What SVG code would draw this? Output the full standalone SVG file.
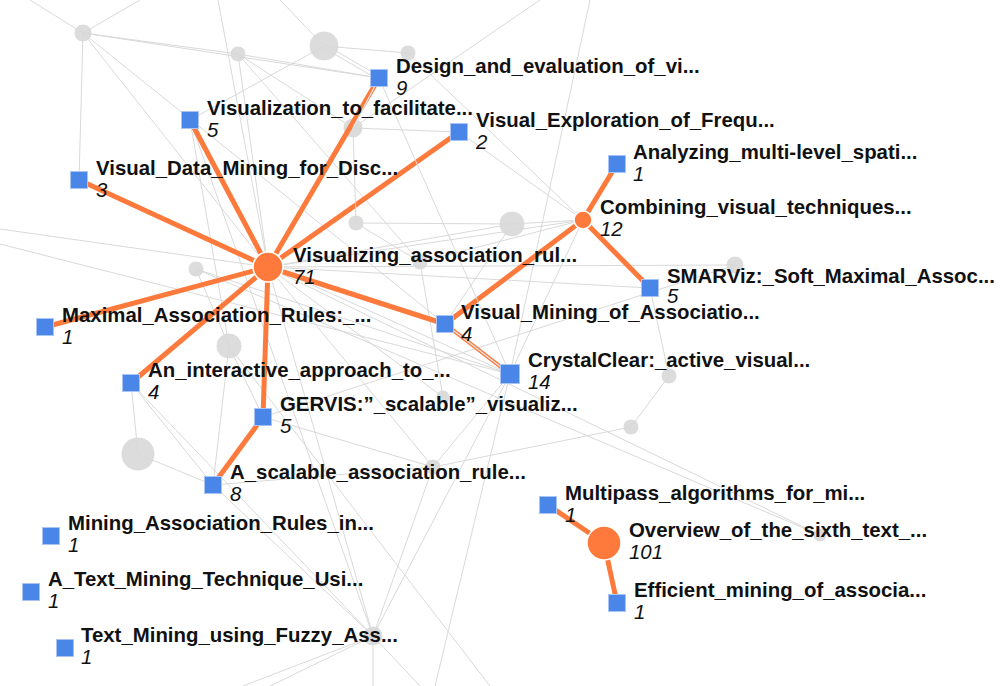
<svg xmlns="http://www.w3.org/2000/svg" width="1000" height="686" viewBox="0 0 1000 686">
<style>
.g{stroke:#d9d9d9;stroke-width:1;fill:none}
.o{stroke:#fd7a3c;stroke-width:5;fill:none;stroke-linecap:butt}
.s{stroke:#e6e6e6;stroke-width:1.3;fill:none}
.gn{fill:#dcdcdc;stroke:#fff;stroke-width:1}
.sq{fill:#4a86e8;stroke:#a8c5f6;stroke-width:1}
.oc{fill:#fd7a3c;stroke:#fff;stroke-width:1.5}
.t{font-family:"Liberation Sans",Arial,sans-serif;font-size:20.4px;font-weight:bold;fill:#111}
.n{font-family:"Liberation Sans",Arial,sans-serif;font-size:20.4px;font-style:italic;fill:#111}
</style>
<rect width="1000" height="686" fill="#fff"/>
<g id="background-nodes">
<circle class="gn" cx="83" cy="33" r="9"/>
<circle class="gn" cx="238" cy="54" r="8"/>
<circle class="gn" cx="324" cy="46" r="15"/>
<circle class="gn" cx="408" cy="53" r="8"/>
<circle class="gn" cx="353" cy="128" r="10"/>
<circle class="gn" cx="356" cy="223" r="8"/>
<circle class="gn" cx="512" cy="224" r="13"/>
<circle class="gn" cx="196" cy="269" r="8"/>
<circle class="gn" cx="420" cy="262" r="8"/>
<circle class="gn" cx="229" cy="346" r="13"/>
<circle class="gn" cx="138" cy="454" r="17"/>
<circle class="gn" cx="443" cy="397" r="7"/>
<circle class="gn" cx="433" cy="467" r="8"/>
<circle class="gn" cx="735" cy="265" r="9"/>
<circle class="gn" cx="669" cy="376" r="8"/>
<circle class="gn" cx="631" cy="427" r="8"/>
<circle class="gn" cx="373" cy="636" r="10"/>
<circle class="gn" cx="820" cy="535" r="7"/>
</g>
<g id="connectors">
<line class="g" x1="30" y1="0" x2="83" y2="33"/>
<line class="g" x1="140" y1="0" x2="83" y2="33"/>
<line class="g" x1="83" y1="33" x2="238" y2="54"/>
<line class="g" x1="83" y1="33" x2="379" y2="78"/>
<line class="g" x1="83" y1="33" x2="79" y2="180"/>
<line class="g" x1="83" y1="33" x2="268" y2="267"/>
<line class="g" x1="83" y1="33" x2="445" y2="324"/>
<line class="g" x1="218" y1="0" x2="268" y2="267"/>
<line class="g" x1="238" y1="54" x2="379" y2="78"/>
<line class="g" x1="238" y1="54" x2="268" y2="267"/>
<line class="g" x1="238" y1="54" x2="353" y2="128"/>
<line class="g" x1="238" y1="54" x2="420" y2="262"/>
<line class="g" x1="280" y1="0" x2="324" y2="46"/>
<line class="g" x1="324" y1="46" x2="408" y2="53"/>
<line class="g" x1="324" y1="44" x2="379" y2="76"/>
<line class="g" x1="324" y1="48" x2="379" y2="80"/>
<line class="g" x1="324" y1="46" x2="190" y2="120"/>
<line class="g" x1="408" y1="53" x2="583" y2="220"/>
<line class="g" x1="540" y1="0" x2="353" y2="128"/>
<line class="g" x1="590" y1="0" x2="510" y2="374"/>
<line class="g" x1="353" y1="128" x2="459" y2="132"/>
<line class="g" x1="459" y1="132" x2="583" y2="220"/>
<line class="g" x1="190" y1="120" x2="229" y2="346"/>
<line class="g" x1="79" y1="180" x2="510" y2="374"/>
<line class="g" x1="356" y1="223" x2="512" y2="224"/>
<line class="g" x1="356" y1="223" x2="420" y2="262"/>
<line class="g" x1="512" y1="224" x2="583" y2="220"/>
<line class="g" x1="268" y1="267" x2="512" y2="224"/>
<line class="g" x1="268" y1="267" x2="583" y2="220"/>
<line class="g" x1="268" y1="267" x2="735" y2="265"/>
<line class="g" x1="268" y1="267" x2="650" y2="288"/>
<line class="g" x1="0" y1="229" x2="268" y2="267"/>
<line class="g" x1="0" y1="244" x2="510" y2="374"/>
<line class="g" x1="196" y1="269" x2="510" y2="374"/>
<line class="g" x1="196" y1="269" x2="229" y2="346"/>
<line class="g" x1="229" y1="346" x2="213" y2="485"/>
<line class="g" x1="229" y1="346" x2="263" y2="417"/>
<line class="g" x1="131" y1="383" x2="138" y2="454"/>
<line class="g" x1="131" y1="383" x2="213" y2="485"/>
<line class="g" x1="138" y1="454" x2="213" y2="485"/>
<line class="g" x1="131" y1="383" x2="373" y2="636"/>
<line class="g" x1="263" y1="417" x2="433" y2="467"/>
<line class="g" x1="213" y1="485" x2="433" y2="467"/>
<line class="g" x1="213" y1="485" x2="373" y2="636"/>
<line class="g" x1="268" y1="267" x2="373" y2="636"/>
<line class="g" x1="268" y1="267" x2="433" y2="467"/>
<line class="g" x1="268" y1="267" x2="443" y2="397"/>
<line class="g" x1="268" y1="267" x2="820" y2="535"/>
<line class="g" x1="196" y1="269" x2="820" y2="535"/>
<line class="g" x1="373" y1="636" x2="433" y2="467"/>
<line class="g" x1="373" y1="636" x2="510" y2="374"/>
<line class="g" x1="373" y1="636" x2="243" y2="686"/>
<line class="g" x1="373" y1="636" x2="270" y2="686"/>
<line class="g" x1="373" y1="636" x2="373" y2="686"/>
<line class="g" x1="373" y1="636" x2="420" y2="686"/>
<line class="g" x1="229" y1="346" x2="490" y2="686"/>
<line class="g" x1="435" y1="686" x2="510" y2="374"/>
<line class="g" x1="433" y1="467" x2="510" y2="374"/>
<line class="g" x1="433" y1="467" x2="631" y2="427"/>
<line class="g" x1="263" y1="417" x2="735" y2="265"/>
<line class="g" x1="650" y1="288" x2="669" y2="376"/>
<line class="g" x1="669" y1="376" x2="631" y2="427"/>
<line class="g" x1="583" y1="220" x2="510" y2="374"/>
<line class="g" x1="583" y1="220" x2="420" y2="262"/>
<line class="g" x1="420" y1="262" x2="443" y2="397"/>
<line class="g" x1="445" y1="324" x2="512" y2="224"/>
<line class="g" x1="190" y1="120" x2="373" y2="636"/>
<line class="o" x1="268" y1="267" x2="79" y2="180"/>
<line class="o" x1="268" y1="267" x2="190" y2="120"/>
<line class="o" x1="268" y1="267" x2="379" y2="78"/>
<line class="o" x1="268" y1="267" x2="459" y2="132"/>
<line class="o" x1="268" y1="267" x2="45" y2="327"/>
<line class="o" x1="268" y1="267" x2="131" y2="383"/>
<line class="o" x1="268" y1="267" x2="263" y2="417"/>
<line class="o" x1="268" y1="267" x2="445" y2="324"/>
<line class="o" x1="263" y1="417" x2="213" y2="485"/>
<line class="o" x1="583" y1="220" x2="617" y2="164"/>
<line class="o" x1="583" y1="220" x2="650" y2="288"/>
<line class="o" x1="583" y1="220" x2="445" y2="324"/>
<line class="o" x1="445" y1="324" x2="510" y2="374" style="stroke-width:4"/>
<line class="o" x1="604" y1="543" x2="548" y2="505"/>
<line class="o" x1="604" y1="543" x2="617" y2="603"/>
<line class="s" x1="379" y1="78" x2="353" y2="128"/>
<line class="s" x1="445" y1="324" x2="510" y2="374"/>
<line class="g" x1="353" y1="128" x2="356" y2="223"/>
<line class="g" x1="379" y1="78" x2="510" y2="374"/>
</g>
<g id="node-design"><rect class="sq" x="370.5" y="69.5" width="17" height="17"/><text class="t" x="396" y="73">Design_and_evaluation_of_vi...</text><text class="n" x="396" y="95">9</text></g>
<g id="node-visualization-to-facilitate"><rect class="sq" x="181.5" y="111.5" width="17" height="17"/><text class="t" x="207" y="115">Visualization_to_facilitate...</text><text class="n" x="207" y="137">5</text></g>
<g id="node-visual-exploration"><rect class="sq" x="450.5" y="123.5" width="17" height="17"/><text class="t" x="476" y="127">Visual_Exploration_of_Frequ...</text><text class="n" x="476" y="149">2</text></g>
<g id="node-visual-data-mining"><rect class="sq" x="70.5" y="171.5" width="17" height="17"/><text class="t" x="96" y="175">Visual_Data_Mining_for_Disc...</text><text class="n" x="96" y="197">3</text></g>
<g id="node-analyzing"><rect class="sq" x="608.5" y="155.5" width="17" height="17"/><text class="t" x="633" y="159">Analyzing_multi-level_spati...</text><text class="n" x="633" y="181">1</text></g>
<g id="node-combining"><circle class="oc" cx="583" cy="220" r="9"/><text class="t" x="600" y="214">Combining_visual_techniques...</text><text class="n" x="600" y="236">12</text></g>
<g id="node-visualizing"><circle class="oc" cx="268" cy="267" r="15"/><text class="t" x="293" y="262">Visualizing_association_rul...</text><text class="n" x="293" y="284">71</text></g>
<g id="node-smarviz"><rect class="sq" x="641.5" y="279.5" width="17" height="17"/><text class="t" x="667" y="283">SMARViz:_Soft_Maximal_Assoc...</text><text class="n" x="667" y="303">5</text></g>
<g id="node-maximal"><rect class="sq" x="36.5" y="318.5" width="17" height="17"/><text class="t" x="62" y="322">Maximal_Association_Rules:_...</text><text class="n" x="62" y="344">1</text></g>
<g id="node-visual-mining"><rect class="sq" x="436.5" y="315.5" width="17" height="17"/><text class="t" x="461" y="319">Visual_Mining_of_Associatio...</text><text class="n" x="461" y="341">4</text></g>
<g id="node-crystalclear"><rect class="sq" x="500.5" y="364.5" width="19" height="19"/><text class="t" x="528" y="367">CrystalClear:_active_visual...</text><text class="n" x="528" y="389">14</text></g>
<g id="node-interactive"><rect class="sq" x="122.5" y="374.5" width="17" height="17"/><text class="t" x="148" y="377">An_interactive_approach_to_...</text><text class="n" x="148" y="399">4</text></g>
<g id="node-gervis"><rect class="sq" x="254.5" y="408.5" width="17" height="17"/><text class="t" x="280" y="411">GERVIS:”_scalable”_visualiz...</text><text class="n" x="280" y="433">5</text></g>
<g id="node-scalable"><rect class="sq" x="204.5" y="476.5" width="17" height="17"/><text class="t" x="230" y="479">A_scalable_association_rule...</text><text class="n" x="230" y="501">8</text></g>
<g id="node-mining-association"><rect class="sq" x="42.5" y="527.5" width="17" height="17"/><text class="t" x="68" y="530">Mining_Association_Rules_in...</text><text class="n" x="68" y="552">1</text></g>
<g id="node-text-mining-technique"><rect class="sq" x="22.5" y="583.5" width="17" height="17"/><text class="t" x="48" y="586">A_Text_Mining_Technique_Usi...</text><text class="n" x="48" y="608">1</text></g>
<g id="node-text-mining-fuzzy"><rect class="sq" x="56.5" y="639.5" width="17" height="17"/><text class="t" x="81" y="642">Text_Mining_using_Fuzzy_Ass...</text><text class="n" x="81" y="664">1</text></g>
<g id="node-multipass"><rect class="sq" x="539.5" y="496.5" width="17" height="17"/><text class="t" x="565" y="500">Multipass_algorithms_for_mi...</text><text class="n" x="565" y="522">1</text></g>
<g id="node-overview"><circle class="oc" cx="604" cy="543" r="17"/><text class="t" x="629" y="537">Overview_of_the_sixth_text_...</text><text class="n" x="629" y="559">101</text></g>
<g id="node-efficient"><rect class="sq" x="608.5" y="594.5" width="17" height="17"/><text class="t" x="634" y="597">Efficient_mining_of_associa...</text><text class="n" x="634" y="619">1</text></g>
</svg>
